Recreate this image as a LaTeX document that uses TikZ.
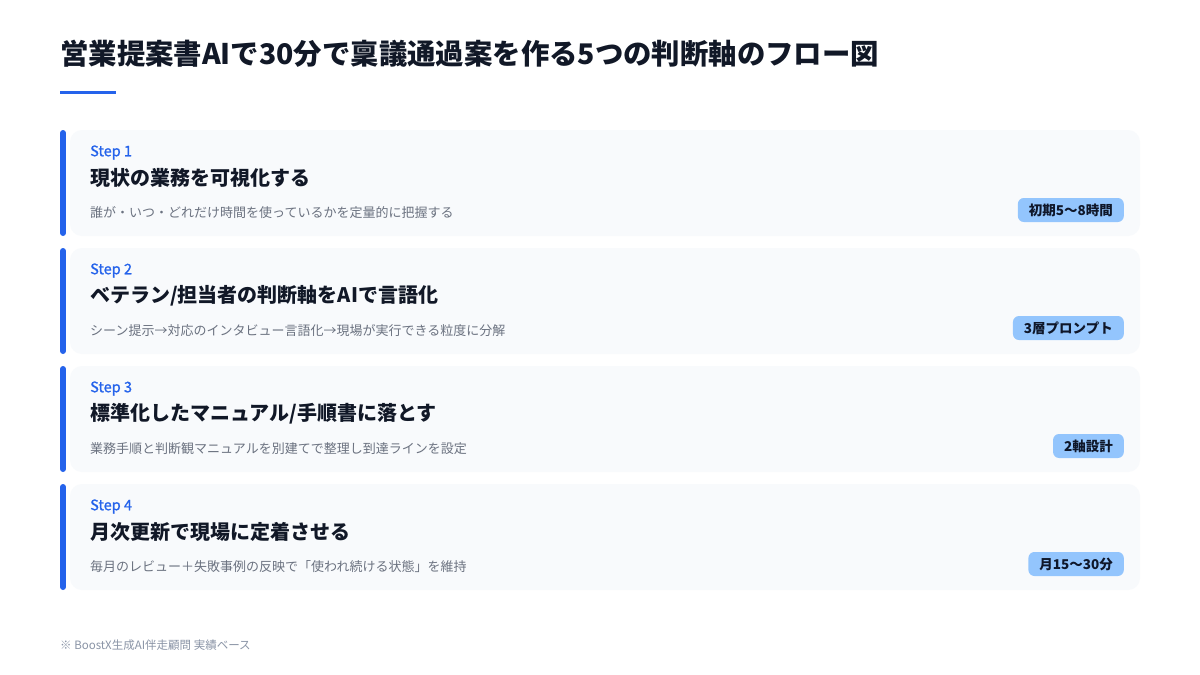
\documentclass[tikz,border=0pt]{standalone}
\usepackage{fontspec}
\setmainfont{Noto Sans CJK JP}
\usetikzlibrary{positioning}
\definecolor{accent}{HTML}{2563EB}
\definecolor{cardbg}{HTML}{F8FAFC}
\definecolor{ink}{HTML}{111827}
\definecolor{muted}{HTML}{6B7280}
\definecolor{foot}{HTML}{8A94A6}
\definecolor{badgebg}{HTML}{93C5FD}
\definecolor{badgeink}{HTML}{0F172A}
\tikzset{
  card/.style={fill=cardbg, rounded corners=12pt, draw=none},
  bar/.style={line width=6pt, accent, line cap=round},
  steplabel/.style={anchor=west, inner sep=0pt, text=accent, font=\fontsize{14.5}{16}\selectfont\addfontfeature{FakeBold=1.2}},
  heading/.style={anchor=west, inner sep=0pt, text=ink, font=\fontsize{20}{22}\selectfont\bfseries},
  desc/.style={anchor=west, inner sep=0pt, text=muted, font=\fontsize{13}{15}\selectfont},
  badge/.style={anchor=east, fill=badgebg, text=badgeink, rounded corners=6pt, inner xsep=11pt, minimum height=24pt, font=\fontsize{13.5}{14}\selectfont\bfseries},
}
\begin{document}
\begin{tikzpicture}[x=1pt,y=-1pt]
\useasboundingbox[fill=white] (0,0) rectangle (1200,675);
\node[anchor=west, inner sep=0pt, text=ink, font=\fontsize{28.4}{32}\selectfont\bfseries] (title) at (60,54) {営業提案書AIで30分で稟議通過案を作る5つの判断軸のフロー図};
\draw[accent, line width=3pt] (60,92) -- (116,92);
\foreach \i/\top/\hd/\ds/\bd in {
 1/130/{現状の業務を可視化する}/{誰が・いつ・どれだけ時間を使っているかを定量的に把握する}/{初期5〜8時間},
 2/248/{ベテラン/担当者の判断軸をAIで言語化}/{シーン提示→対応のインタビュー言語化→現場が実行できる粒度に分解}/{3層プロンプト},
 3/366/{標準化したマニュアル/手順書に落とす}/{業務手順と判断観マニュアルを別建てで整理し到達ラインを設定}/{2軸設計},
 4/484/{月次更新で現場に定着させる}/{毎月のレビュー＋失敗事例の反映で「使われ続ける状態」を維持}/{月15〜30分}}{
  \fill[card] (70,\top) rectangle (1140,\top+106);
  \draw[bar] (63,\top+3) -- (63,\top+103);
  \node[steplabel] (step\i) at (90,\top+22.5) {Step \i};
  \node[heading] (head\i) at (90,\top+47.5) {\hd};
  \node[desc] (desc\i) at (90,\top+83) {\ds};
  \node[badge] (badge\i) at (1124,\top+80) {\bd};
}
\node[anchor=west, inner sep=0pt, text=foot, font=\fontsize{11.5}{14}\selectfont] (footer) at (60,645) {※ BoostX生成AI伴走顧問 実績ベース};
\end{tikzpicture}
\end{document}
